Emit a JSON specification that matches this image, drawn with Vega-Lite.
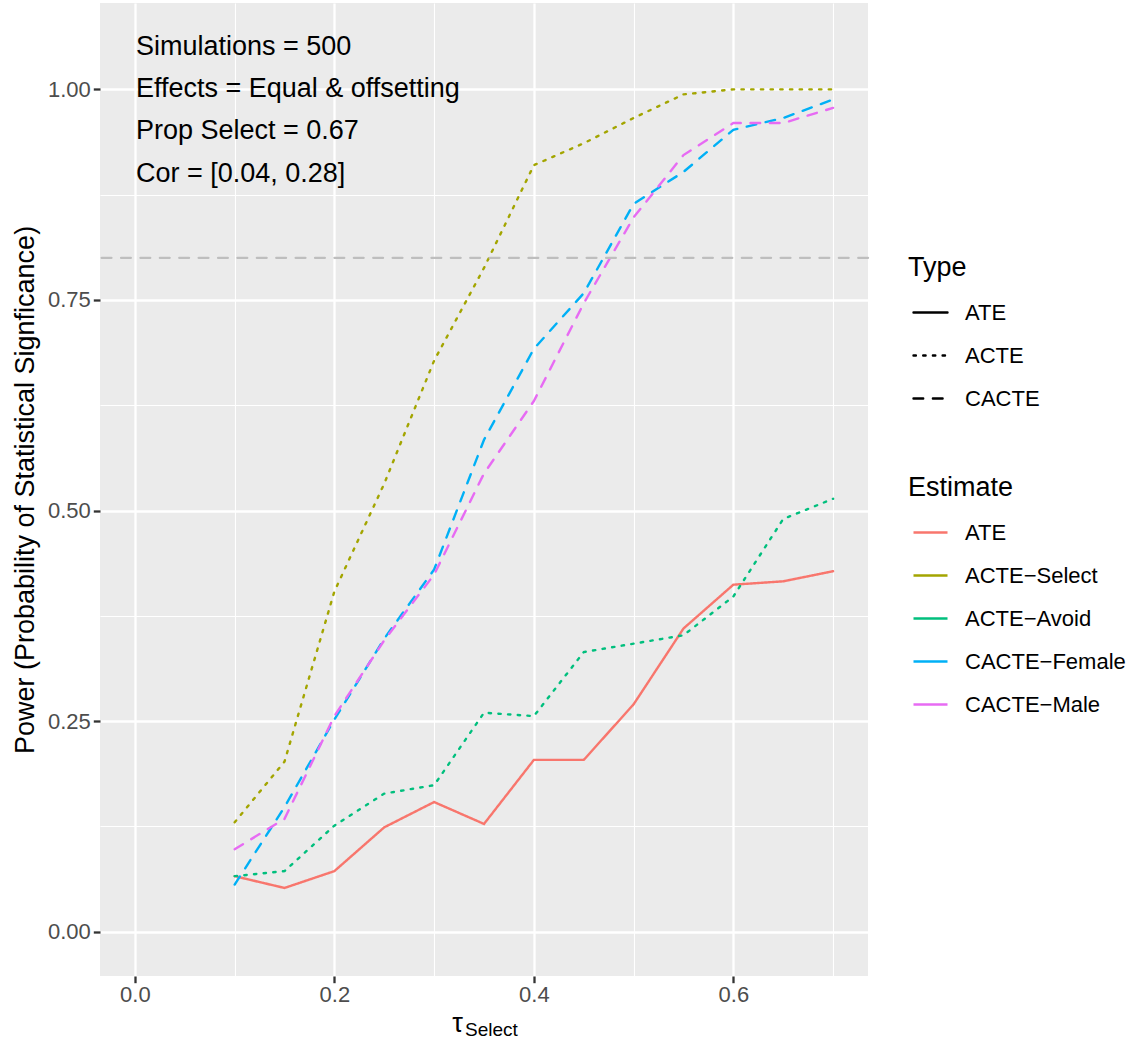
{
  "$schema": "https://vega.github.io/schema/vega-lite/v6.json",
  "width": 768,
  "height": 973,
  "autosize": {"type": "none"},
  "padding": {"left": 100, "top": 3, "right": 261, "bottom": 66},
  "background": "white",
  "config": {
    "view": {"fill": "#EBEBEB", "stroke": null},
    "font": "Liberation Sans",
    "axis": {
      "domain": false,
      "gridColor": "white",
      "tickColor": "#333333",
      "tickWidth": 2.3,
      "tickSize": 6.7,
      "labelColor": "#4D4D4D",
      "labelFontSize": 22,
      "titleFontSize": 27,
      "titleFontWeight": "normal",
      "titleColor": "black"
    },
    "legend": {
      "titleFontSize": 27,
      "titleFontWeight": "normal",
      "titleColor": "black",
      "labelFontSize": 22,
      "labelColor": "black",
      "labelLimit": 400,
      "symbolType": "stroke",
      "symbolStrokeWidth": 2.4,
      "symbolSize": 1156,
      "symbolOffset": 4,
      "rowPadding": 13,
      "labelOffset": 16,
      "orient": "none"
    }
  },
  "datasets": {
    "power": [
      {"tau": 0.1, "estimate": "ATE", "type": "ATE", "power": 0.066},
      {"tau": 0.15, "estimate": "ATE", "type": "ATE", "power": 0.052},
      {"tau": 0.2, "estimate": "ATE", "type": "ATE", "power": 0.072},
      {"tau": 0.25, "estimate": "ATE", "type": "ATE", "power": 0.124},
      {"tau": 0.3, "estimate": "ATE", "type": "ATE", "power": 0.154},
      {"tau": 0.35, "estimate": "ATE", "type": "ATE", "power": 0.128},
      {"tau": 0.4, "estimate": "ATE", "type": "ATE", "power": 0.204},
      {"tau": 0.45, "estimate": "ATE", "type": "ATE", "power": 0.204},
      {"tau": 0.5, "estimate": "ATE", "type": "ATE", "power": 0.27},
      {"tau": 0.55, "estimate": "ATE", "type": "ATE", "power": 0.36},
      {"tau": 0.6, "estimate": "ATE", "type": "ATE", "power": 0.412},
      {"tau": 0.65, "estimate": "ATE", "type": "ATE", "power": 0.416},
      {"tau": 0.7, "estimate": "ATE", "type": "ATE", "power": 0.428},
      {"tau": 0.1, "estimate": "ACTE−Select", "type": "ACTE", "power": 0.13},
      {"tau": 0.15, "estimate": "ACTE−Select", "type": "ACTE", "power": 0.202},
      {"tau": 0.2, "estimate": "ACTE−Select", "type": "ACTE", "power": 0.404},
      {"tau": 0.25, "estimate": "ACTE−Select", "type": "ACTE", "power": 0.532},
      {"tau": 0.3, "estimate": "ACTE−Select", "type": "ACTE", "power": 0.678},
      {"tau": 0.35, "estimate": "ACTE−Select", "type": "ACTE", "power": 0.788},
      {"tau": 0.4, "estimate": "ACTE−Select", "type": "ACTE", "power": 0.91},
      {"tau": 0.45, "estimate": "ACTE−Select", "type": "ACTE", "power": 0.936},
      {"tau": 0.5, "estimate": "ACTE−Select", "type": "ACTE", "power": 0.966},
      {"tau": 0.55, "estimate": "ACTE−Select", "type": "ACTE", "power": 0.994},
      {"tau": 0.6, "estimate": "ACTE−Select", "type": "ACTE", "power": 1.0},
      {"tau": 0.65, "estimate": "ACTE−Select", "type": "ACTE", "power": 1.0},
      {"tau": 0.7, "estimate": "ACTE−Select", "type": "ACTE", "power": 1.0},
      {"tau": 0.1, "estimate": "ACTE−Avoid", "type": "ACTE", "power": 0.066},
      {"tau": 0.15, "estimate": "ACTE−Avoid", "type": "ACTE", "power": 0.072},
      {"tau": 0.2, "estimate": "ACTE−Avoid", "type": "ACTE", "power": 0.126},
      {"tau": 0.25, "estimate": "ACTE−Avoid", "type": "ACTE", "power": 0.164},
      {"tau": 0.3, "estimate": "ACTE−Avoid", "type": "ACTE", "power": 0.174},
      {"tau": 0.35, "estimate": "ACTE−Avoid", "type": "ACTE", "power": 0.26},
      {"tau": 0.4, "estimate": "ACTE−Avoid", "type": "ACTE", "power": 0.256},
      {"tau": 0.45, "estimate": "ACTE−Avoid", "type": "ACTE", "power": 0.332},
      {"tau": 0.5, "estimate": "ACTE−Avoid", "type": "ACTE", "power": 0.342},
      {"tau": 0.55, "estimate": "ACTE−Avoid", "type": "ACTE", "power": 0.352},
      {"tau": 0.6, "estimate": "ACTE−Avoid", "type": "ACTE", "power": 0.398},
      {"tau": 0.65, "estimate": "ACTE−Avoid", "type": "ACTE", "power": 0.49},
      {"tau": 0.7, "estimate": "ACTE−Avoid", "type": "ACTE", "power": 0.514},
      {"tau": 0.1, "estimate": "CACTE−Female", "type": "CACTE", "power": 0.056},
      {"tau": 0.15, "estimate": "CACTE−Female", "type": "CACTE", "power": 0.148},
      {"tau": 0.2, "estimate": "CACTE−Female", "type": "CACTE", "power": 0.252},
      {"tau": 0.25, "estimate": "CACTE−Female", "type": "CACTE", "power": 0.348},
      {"tau": 0.3, "estimate": "CACTE−Female", "type": "CACTE", "power": 0.43},
      {"tau": 0.35, "estimate": "CACTE−Female", "type": "CACTE", "power": 0.584},
      {"tau": 0.4, "estimate": "CACTE−Female", "type": "CACTE", "power": 0.692},
      {"tau": 0.45, "estimate": "CACTE−Female", "type": "CACTE", "power": 0.758},
      {"tau": 0.5, "estimate": "CACTE−Female", "type": "CACTE", "power": 0.864},
      {"tau": 0.55, "estimate": "CACTE−Female", "type": "CACTE", "power": 0.902},
      {"tau": 0.6, "estimate": "CACTE−Female", "type": "CACTE", "power": 0.952},
      {"tau": 0.65, "estimate": "CACTE−Female", "type": "CACTE", "power": 0.966},
      {"tau": 0.7, "estimate": "CACTE−Female", "type": "CACTE", "power": 0.988},
      {"tau": 0.1, "estimate": "CACTE−Male", "type": "CACTE", "power": 0.098},
      {"tau": 0.15, "estimate": "CACTE−Male", "type": "CACTE", "power": 0.134},
      {"tau": 0.2, "estimate": "CACTE−Male", "type": "CACTE", "power": 0.256},
      {"tau": 0.25, "estimate": "CACTE−Male", "type": "CACTE", "power": 0.346},
      {"tau": 0.3, "estimate": "CACTE−Male", "type": "CACTE", "power": 0.424},
      {"tau": 0.35, "estimate": "CACTE−Male", "type": "CACTE", "power": 0.544},
      {"tau": 0.4, "estimate": "CACTE−Male", "type": "CACTE", "power": 0.63},
      {"tau": 0.45, "estimate": "CACTE−Male", "type": "CACTE", "power": 0.746},
      {"tau": 0.5, "estimate": "CACTE−Male", "type": "CACTE", "power": 0.848},
      {"tau": 0.55, "estimate": "CACTE−Male", "type": "CACTE", "power": 0.922},
      {"tau": 0.6, "estimate": "CACTE−Male", "type": "CACTE", "power": 0.96},
      {"tau": 0.65, "estimate": "CACTE−Male", "type": "CACTE", "power": 0.96},
      {"tau": 0.7, "estimate": "CACTE−Male", "type": "CACTE", "power": 0.978}
    ],
    "notes": [
      {"label": "Simulations = 500", "tau": 0, "power": 1.05},
      {"label": "Effects = Equal & offsetting", "tau": 0, "power": 1.0},
      {"label": "Prop Select = 0.67", "tau": 0, "power": 0.95},
      {"label": "Cor = [0.04, 0.28]", "tau": 0, "power": 0.9}
    ],
    "threshold": [{"power": 0.8}],
    "subscript": [{"label": "Select"}]
  },
  "layer": [
    {
      "data": {"name": "power"},
      "mark": {"type": "line", "strokeWidth": 2.4, "strokeCap": "round"},
      "encoding": {
        "x": {
          "field": "tau", "type": "quantitative",
          "scale": {"domain": [-0.035, 0.735], "nice": false, "zero": false},
          "axis": {
            "values": [0, 0.1, 0.2, 0.3, 0.4, 0.5, 0.6, 0.7],
            "labelExpr": "round(datum.value*10)%2==0 ? format(datum.value,'.1f') : ''",
            "gridWidth": {"condition": {"test": "round(datum.value*10)%2==0", "value": 2.3}, "value": 1.1},
            "tickOpacity": {"condition": {"test": "round(datum.value*10)%2==0", "value": 1}, "value": 0},
            "labelPadding": 2,
            "title": "τ",
            "titleX": 357,
            "titleY": 55,
            "titleAlign": "center",
            "titleBaseline": "alphabetic"
          }
        },
        "y": {
          "field": "power", "type": "quantitative",
          "scale": {"domain": [-0.0525, 1.1025], "nice": false, "zero": false},
          "axis": {
            "values": [0, 0.125, 0.25, 0.375, 0.5, 0.625, 0.75, 0.875, 1.0],
            "labelExpr": "round(datum.value*8)%2==0 ? format(datum.value,'.2f') : ''",
            "gridWidth": {"condition": {"test": "round(datum.value*8)%2==0", "value": 2.3}, "value": 1.1},
            "tickOpacity": {"condition": {"test": "round(datum.value*8)%2==0", "value": 1}, "value": 0},
            "labelPadding": 3,
            "title": "Power (Probability of Statistical Signficance)",
            "titlePadding": 8
          }
        },
        "color": {
          "field": "estimate", "type": "nominal",
          "scale": {
            "domain": ["ATE", "ACTE−Select", "ACTE−Avoid", "CACTE−Female", "CACTE−Male"],
            "range": ["#F8766D", "#A3A500", "#00BF7D", "#00B0F6", "#E76BF3"]
          },
          "legend": {"title": "Estimate", "legendX": 808, "legendY": 472, "titlePadding": 12}
        },
        "strokeDash": {
          "field": "type", "type": "nominal",
          "scale": {"domain": ["ATE", "ACTE", "CACTE"], "range": [[1, 0], [2.4, 7.3], [9.7, 9.7]]},
          "legend": {
            "title": "Type", "legendX": 808, "legendY": 252, "titlePadding": 12,
            "symbolStrokeColor": "black",
            "encode": {"symbols": {"update": {"strokeCap": {"value": "round"}}}}
          }
        },
        "detail": {"field": "estimate"}
      }
    },
    {
      "data": {"name": "threshold"},
      "mark": {"type": "rule", "color": "#BEBEBE", "strokeWidth": 2.4, "strokeDash": [9.7, 9.7], "strokeCap": "round"},
      "encoding": {"y": {"field": "power", "type": "quantitative"}}
    },
    {
      "data": {"name": "notes"},
      "mark": {"type": "text", "align": "left", "baseline": "middle", "fontSize": 27, "color": "black", "dx": 1},
      "encoding": {
        "x": {"field": "tau", "type": "quantitative"},
        "y": {"field": "power", "type": "quantitative"},
        "text": {"field": "label"}
      }
    },
    {
      "data": {"name": "subscript"},
      "mark": {"type": "text", "align": "left", "baseline": "alphabetic", "fontSize": 19, "color": "black", "dx": -19, "dy": 60},
      "encoding": {"x": {"datum": 0.35}, "y": {"datum": -0.0525}, "text": {"field": "label"}}
    }
  ]
}
